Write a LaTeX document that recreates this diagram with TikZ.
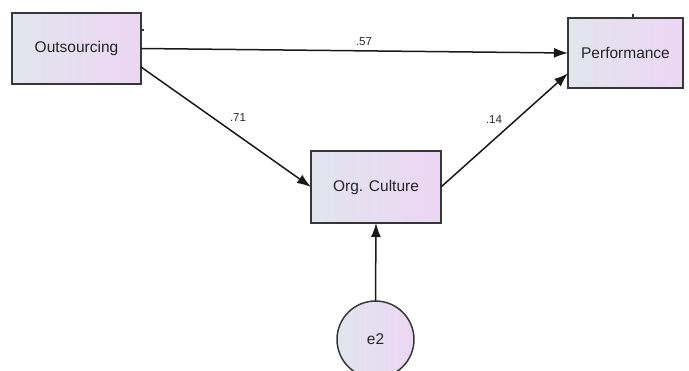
\documentclass[tikz,border=0pt]{standalone}
\usepackage{fontspec}
\setmainfont{Liberation Sans}
\usetikzlibrary{arrows.meta,calc}
\definecolor{boxL}{RGB}{226,229,238}
\definecolor{boxR}{RGB}{236,214,243}
\definecolor{edgeC}{RGB}{55,55,55}
\tikzset{
  varbox/.style={rectangle,draw=edgeC,line width=1.5pt,left color=boxL,right color=boxR,
    inner sep=0pt,outer sep=0pt,font=\fontsize{15.5}{18}\selectfont,text=black!85},
  errnode/.style={circle,draw=edgeC,line width=1.5pt,left color=boxL,right color=boxR,
    inner sep=0pt,outer sep=0pt,minimum size=77pt,font=\fontsize{15.5}{18}\selectfont,text=black!85},
  arr/.style={line width=1.5pt,draw=black!90,-{Latex[length=14pt,width=10pt]}},
  coef/.style={font=\fontsize{11.5}{13}\selectfont,text=black!85,inner sep=0pt},
  tick/.style={line width=1.2pt,draw=black!80}
}
\begin{document}
\begin{tikzpicture}[x=1pt,y=-1pt]
\useasboundingbox (0,0) rectangle (689,370);
\begin{scope}
\clip (0,0) rectangle (689,370);
\node[varbox,minimum width=129pt,minimum height=71pt] (out) at (76.5,48.5) {Outsourcing};
\node[varbox,minimum width=115pt,minimum height=70pt] (perf) at (625.5,53) {Performance};
\node[varbox,minimum width=130pt,minimum height=72pt] (org) at (376,187) {Org. Culture};
\node[errnode] (e2) at (375.5,339.5) {e2};

\draw[arr] (out.east) -- (perf.west);
\draw[arr] ($(out.north east)!0.76!(out.south east)$) -- (org.west);
\draw[arr] (org.east) -- ($(perf.north west)!0.79!(perf.south west)$);
\draw[arr] (e2.north) -- (org.south);

\node[coef] (l57) at (364,42) {.57};
\node[coef] (l71) at (238,118) {.71};
\node[coef] (l14) at (494,120) {.14};

\coordinate (t1) at ($(perf.north)+(7.5,0)$);
\draw[tick] (t1) -- ++(0,-4);
\coordinate (t2) at ($(out.north east)+(2,16)$);
\draw[tick] (t2) -- ++(0,2);
\end{scope}
\end{tikzpicture}
\end{document}
